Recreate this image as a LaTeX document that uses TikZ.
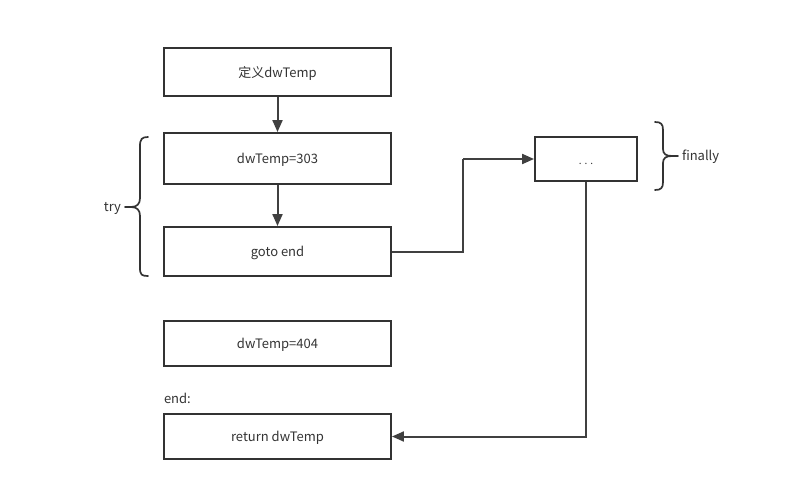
\documentclass[tikz,border=0pt]{standalone}
\usepackage{fontspec}
\setmainfont{Noto Sans CJK SC}
\usetikzlibrary{arrows.meta}
\begin{document}
\begin{tikzpicture}[x=1pt,y=-1pt,
    stepbox/.style={draw=black!80,line width=1.9pt,minimum width=227pt,minimum height=48pt,inner sep=0pt,text height=11.5pt,text depth=1pt,font=\fontsize{13}{15}\selectfont,text=black!80},
    arr/.style={draw=black!75,line width=2pt,-{Triangle[length=12pt,width=10pt]}},
    wire/.style={draw=black!75,line width=2pt},
    brace/.style={draw=black!80,line width=1.7pt,line cap=round},
    lbl/.style={font=\fontsize{13}{15}\selectfont,text=black!80,inner sep=0pt,outer sep=4pt}]
   \useasboundingbox (0,0) rectangle (787,492);

   %MAIN COLUMN
   \node [stepbox] (def) at (277.5,72) {定义dwTemp};
   \node [stepbox,minimum height=51pt] (set303) at (277.5,158.5) {dwTemp=303};
   \node [stepbox,minimum height=49pt] (goto) at (277.5,251.5) {goto end};
   \node [stepbox,minimum height=45pt] (set404) at (277.5,343.5) {dwTemp=404};
   \node [lbl,anchor=west,outer sep=0pt] (endlbl) at (164,398) {end:};
   \node [stepbox,minimum height=45pt] (ret) at (277.5,436.5) {return dwTemp};

   %FINALLY BOX
   \node [stepbox,minimum width=102pt,minimum height=44pt,font=\fontsize{10}{12}\selectfont] (dots) at (586,159) {. . .};

   %ARROWS
   \draw [arr] (def) -- (set303);
   \draw [arr] (set303) -- (goto);
   \coordinate (bend) at (463,159);
   \draw [wire] (goto.east) -| (bend);
   \draw [arr] (bend) -- (dots.west);
   \draw [arr] (dots.south) |- (ret.east);

   %TRY BRACE
   \draw [brace] (148,137) .. controls (142,137) and (140,139) .. (140,146) -- (140,198)
       .. controls (140,204) and (137,207) .. (131,207)
       .. controls (137,207) and (140,210) .. (140,216) -- (140,268)
       .. controls (140,275) and (142,276) .. (148,276);
   \coordinate (trytip) at (131,207);
   \node [lbl,anchor=east] (try) at (125,208) {try};
   \draw [brace] (trytip) -- (try.east |- trytip);

   %FINALLY BRACE
   \draw [brace] (655,122) .. controls (661,122) and (663,124) .. (663,130) -- (663,149)
       .. controls (663,154) and (666,156) .. (672,156)
       .. controls (666,156) and (663,158) .. (663,163) -- (663,182)
       .. controls (663,188) and (661,190) .. (655,190);
   \coordinate (fintip) at (672,156);
   \node [lbl,anchor=west] (fin) at (678,157) {finally};
   \draw [brace] (fintip) -- (fin.west |- fintip);
\end{tikzpicture}
\end{document}
